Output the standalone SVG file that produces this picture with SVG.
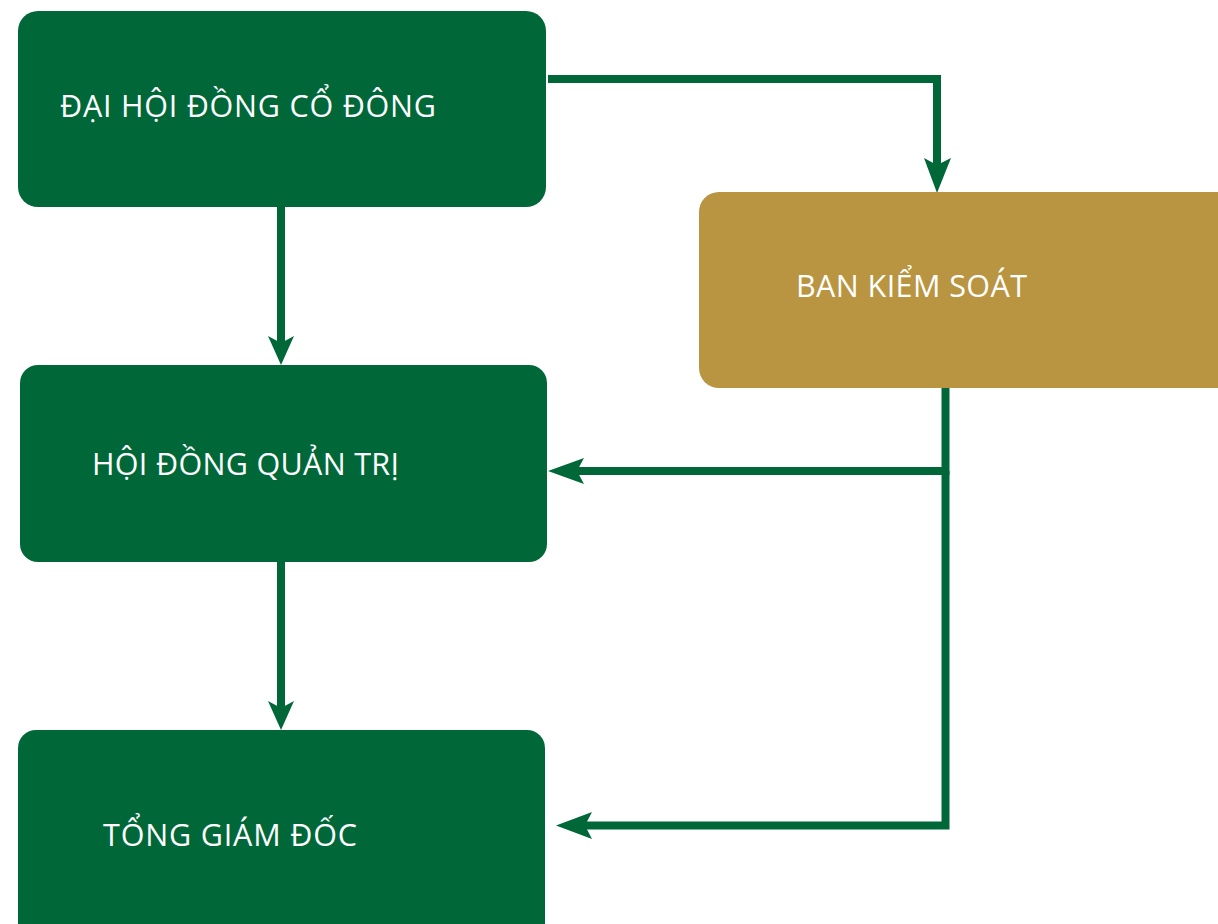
<svg xmlns="http://www.w3.org/2000/svg" width="1218" height="924" viewBox="0 0 1218 924">
<defs>
<style>
.g{fill:#006838}
.gold{fill:#B99542}
.t{fill:#fff;font-family:"Open Sans","Noto Sans","Liberation Sans",sans-serif;font-size:30.5px}
.c{fill:none;stroke:#006838;stroke-width:8}
.a{fill:#006838}
</style>
</defs>
<rect width="1218" height="924" fill="#fff"/>
<g id="connectors">
<polyline class="c" points="548,79 937,79 937,170"/>
<polygon class="a" points="924,158 937,165 951,158 937,193"/>
<line class="c" x1="281" y1="207" x2="281" y2="345"/>
<polygon class="a" points="268,336 281,343 294,336 281,365"/>
<line class="c" x1="281" y1="562" x2="281" y2="710"/>
<polygon class="a" points="268,701 281,708 294,701 281,730"/>
<polyline class="c" points="945.5,388 945.5,471 570,471"/>
<polygon class="a" points="584,458 577,471 584,484 548,471"/>
<polyline class="c" points="945.5,471 945.5,825.5 578,825.5"/>
<polygon class="a" points="592,812 585,825.5 592,839 556,825.5"/>
</g>
<g id="node-dhdcd">
<rect class="g" x="18" y="11" width="528" height="196" rx="20"/>
<text class="t" x="60" y="117" textLength="376" lengthAdjust="spacing">ĐẠI HỘI ĐỒNG CỔ ĐÔNG</text>
</g>
<g id="node-bks">
<rect class="gold" x="699" y="192" width="560" height="196" rx="20"/>
<text class="t" x="796" y="297" textLength="231" lengthAdjust="spacing">BAN KIỂM SOÁT</text>
</g>
<g id="node-hdqt">
<rect class="g" x="20" y="365" width="527" height="197" rx="18"/>
<text class="t" x="92" y="475" textLength="307" lengthAdjust="spacing">HỘI ĐỒNG QUẢN TRỊ</text>
</g>
<g id="node-tgd">
<rect class="g" x="18" y="730" width="527" height="214" rx="18"/>
<text class="t" x="103" y="846" textLength="254" lengthAdjust="spacing">TỔNG GIÁM ĐỐC</text>
</g>
</svg>
